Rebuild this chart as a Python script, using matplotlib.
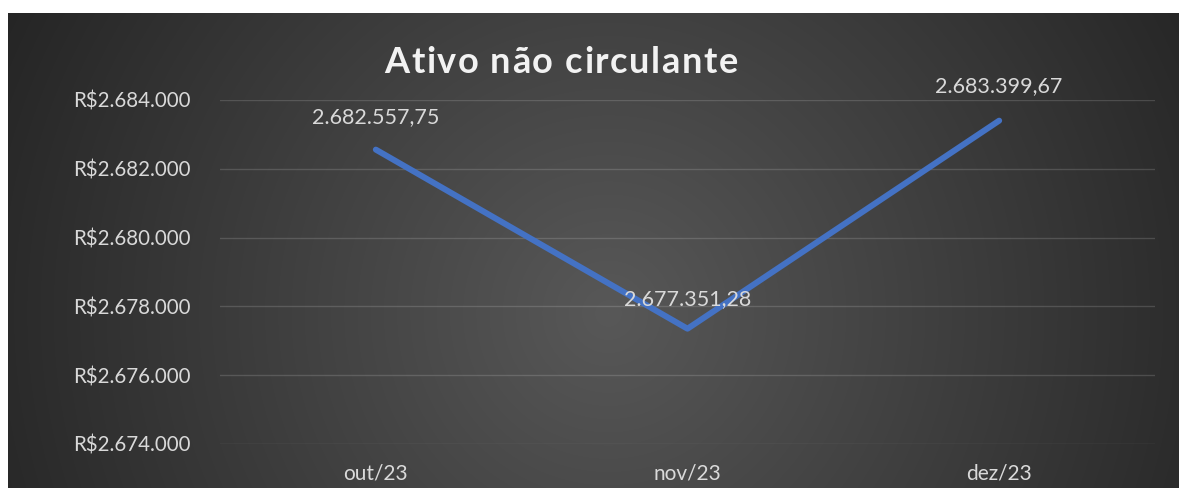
import numpy as np
import matplotlib.pyplot as plt
from matplotlib.ticker import FuncFormatter

# dados
meses = ['out/23', 'nov/23', 'dez/23']
valores = [2682557.75, 2677351.28, 2683399.67]
rotulos = ['2.682.557,75', '2.677.351,28', '2.683.399,67']
y_ticks = [2674000, 2676000, 2678000, 2680000, 2682000, 2684000]
titulo = 'Ativo não circulante'

W, H = 1179, 488
fig = plt.figure(figsize=(W / 100, H / 100), dpi=100)
fig.patch.set_facecolor('white')

# fundo escuro com gradiente radial (estilo Excel)
bg = fig.add_axes([8 / W, 0, 1 - 8 / W, 1 - 13 / H])
bg.set_axis_off()
yy, xx = np.mgrid[0:475, 0:1171]
cx, cy = 600, 300
r = np.sqrt((xx - cx) ** 2 + (yy - cy) ** 2) / 700
r = np.clip(r, 0, 1)
c0, c1 = 0x58 / 255, 0x23 / 255
img = c0 + (c1 - c0) * r
bg.imshow(np.dstack([img, img, img]), aspect='auto', extent=[0, 1, 0, 1], zorder=0)

ax = fig.add_axes([220 / W, 1 - 444 / H, (1155 - 220) / W, (444 - 100) / H])
ax.patch.set_alpha(0)
x = np.arange(len(meses))
ax.plot(x, valores, color='#4472C4', linewidth=4.3, solid_capstyle='round', zorder=3)

ax.set_xlim(-0.5, 2.5)
ax.set_ylim(2674000, 2684000)
ax.set_yticks(y_ticks)
ax.yaxis.set_major_formatter(FuncFormatter(lambda v, p: 'R$' + f'{int(v):,}'.replace(',', '.')))
ax.set_xticks(x)
ax.set_xticklabels(meses)
ax.tick_params(axis='both', length=0, colors='#d9d9d9')
ax.tick_params(axis='y', pad=21, labelsize=14.8)
ax.tick_params(axis='x', pad=14, labelsize=15)
for lab in ax.get_xticklabels() + ax.get_yticklabels():
    lab.set_fontfamily('Lato')
ax.grid(axis='y', color='#ffffff', alpha=0.15, linewidth=1)
for s in ax.spines.values():
    s.set_visible(False)

offsets = [33, 30, 35]
for xi, v, t, off in zip(x, valores, rotulos, offsets):
    ax.annotate(t, (xi, v), xytext=(0, off), textcoords='offset pixels',
                ha='center', va='center', color='#d9d9d9', fontsize=15.5, family='Lato', zorder=4)

# titulo com espacamento entre letras
renderer = fig.canvas.get_renderer()
props = dict(color='#f2f2f2', fontsize=26, fontweight='bold', family='Lato', va='baseline')
spacing = 1.6
tmp = fig.text(0, 0, titulo, **props)
total = tmp.get_window_extent(renderer).width + spacing * (len(titulo) - 1)
tmp.remove()
x0 = 561 - total / 2
for i, ch in enumerate(titulo):
    if i > 0:
        t = fig.text(0, 0, titulo[:i], **props)
        w = t.get_window_extent(renderer).width
        t.remove()
    else:
        w = 0
    fig.text((x0 + w + spacing * i) / W, 1 - 73 / H, ch, ha='left', **props)

fig.savefig('out.png', dpi=100, facecolor=fig.get_facecolor())
